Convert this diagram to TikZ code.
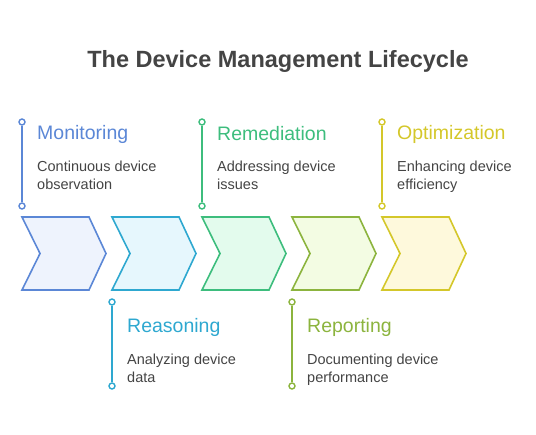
\documentclass[tikz,border=0pt]{standalone}
\usepackage{fontspec}
\setmainfont{Liberation Sans}
\definecolor{cA}{HTML}{5B87D6}\definecolor{fA}{HTML}{EEF3FD}
\definecolor{cB}{HTML}{2EA8D0}\definecolor{fB}{HTML}{E6F7FD}
\definecolor{cC}{HTML}{3DBD7D}\definecolor{fC}{HTML}{E3FBED}
\definecolor{cD}{HTML}{8CB43E}\definecolor{fD}{HTML}{F3FCE3}
\definecolor{cE}{HTML}{D4C72A}\definecolor{fE}{HTML}{FEF9DC}
\definecolor{txt}{HTML}{444444}
\begin{document}
\begin{tikzpicture}[x=1pt,y=-1pt,
  dot/.style={circle,draw=#1,fill=white,line width=1.4pt,inner sep=0pt,minimum size=6pt},
  stem/.style={draw=#1,line width=1.6pt},
  head/.style={anchor=west,text=#1,font=\fontsize{19.5}{22}\selectfont,inner sep=0pt},
  desc/.style={anchor=north west,text=txt,font=\fontsize{14.5}{18}\selectfont,align=left,inner sep=0pt},
  chev/.style={draw=#1,line width=1.6pt,line join=miter}]
\useasboundingbox (0,0) rectangle (536,435);
\node[font=\fontsize{23.5}{26}\selectfont\bfseries,text=txt] (title) at (278,61) {The Device Management Lifecycle};
% chevrons
\foreach \i/\c in {0/A,1/B,2/C,3/D,4/E}{
  \pgfmathsetmacro{\x}{22+90*\i}
  \filldraw[chev=c\c,fill=f\c] (\x,217) -- (\x+67,217) -- (\x+84,253.5) -- (\x+67,290) -- (\x,290) -- (\x+18,253.5) -- cycle;
}
% top labels
\foreach \i/\c/\h/\d in {0/A/Monitoring/{Continuous device\\observation},2/C/Remediation/{Addressing device\\issues},4/E/Optimization/{Enhancing device\\efficiency}}{
  \pgfmathsetmacro{\x}{22+90*\i}
  \node[dot=c\c] (t\i) at (\x,122) {};
  \node[dot=c\c] (b\i) at (\x,206) {};
  \draw[stem=c\c] (t\i) -- (b\i);
  \node[head=c\c] (h\i) at (\x+15,134) {\h};
  \node[desc] (d\i) at (\x+15,161) {\d};
}
% bottom labels
\foreach \i/\c/\h/\d in {1/B/Reasoning/{Analyzing device\\data},3/D/Reporting/{Documenting device\\performance}}{
  \pgfmathsetmacro{\x}{22+90*\i}
  \node[dot=c\c] (t\i) at (\x,302) {};
  \node[dot=c\c] (b\i) at (\x,386) {};
  \draw[stem=c\c] (t\i) -- (b\i);
  \node[head=c\c] (h\i) at (\x+15,327) {\h};
  \node[desc] (d\i) at (\x+15,354) {\d};
}
\end{tikzpicture}
\end{document}
